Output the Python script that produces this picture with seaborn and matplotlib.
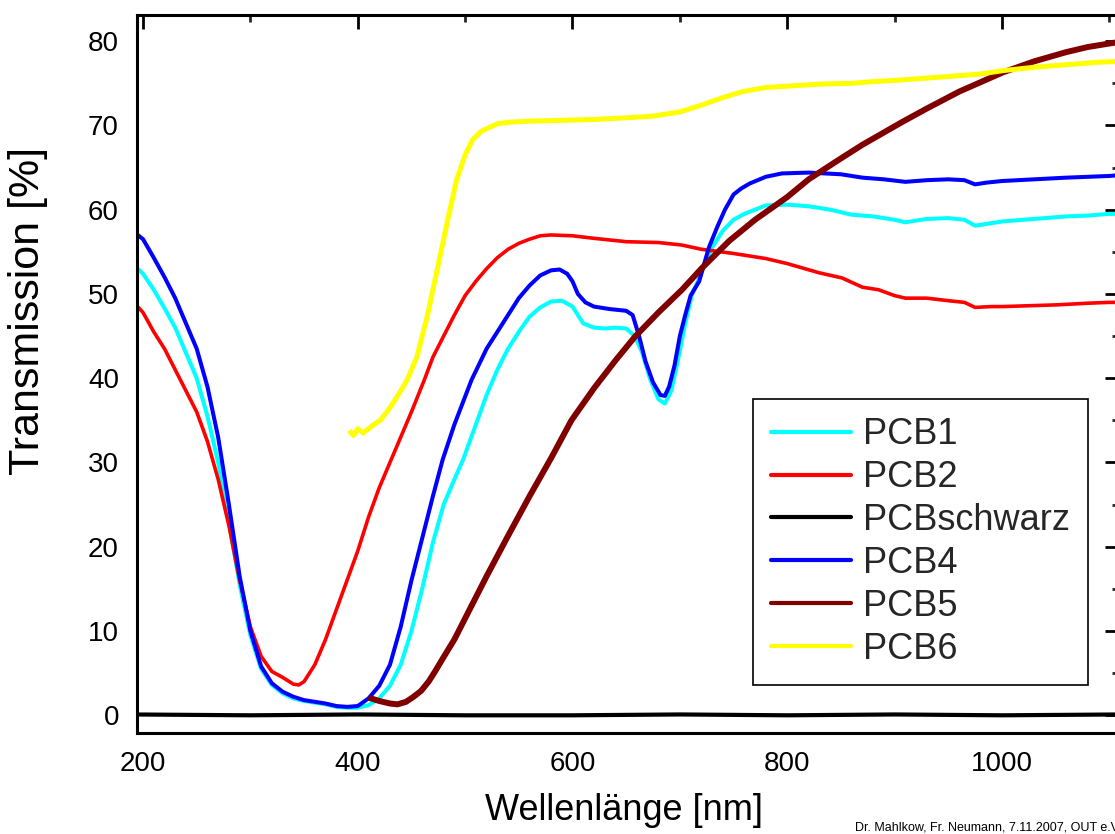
import matplotlib
matplotlib.use("Agg")
import matplotlib.pyplot as plt
from matplotlib.lines import Line2D
from matplotlib.ticker import MultipleLocator
import seaborn as sns
import pandas as pd

# ---------------- data ----------------
pcb1_x = [195, 200, 210, 220, 230, 240, 250, 260, 270, 280, 290, 300, 310, 320, 330, 340, 350, 360, 370, 380,
          390, 400, 410, 420, 430, 440, 450, 460, 470, 480, 490, 498, 510, 520, 530, 540, 550, 560, 570, 580,
          590, 600, 610, 620, 630, 640, 650, 658, 665, 672, 680, 686, 692, 698, 705, 711, 720, 730, 740, 750,
          760, 770, 780, 800, 820, 840, 860, 880, 900, 910, 930, 950, 965, 975, 985, 1000, 1030, 1060, 1080, 1100, 1110]
pcb1_y = [53.0, 52.4, 50.5, 48.3, 46.0, 43.0, 40.0, 35.5, 30.0, 23.0, 15.5, 9.5, 5.5, 3.6, 2.6, 2.0, 1.7, 1.5, 1.3, 1.0,
          0.9, 0.9, 1.2, 2.0, 3.5, 6.0, 10.0, 15.0, 20.5, 25.0, 28.0, 30.3, 34.5, 38.0, 41.0, 43.5, 45.5, 47.3, 48.4, 49.1,
          49.2, 48.5, 46.5, 46.0, 45.9, 46.0, 45.9, 45.0, 43.0, 40.0, 37.5, 37.0, 38.5, 42.0, 46.5, 49.8, 52.5, 55.5, 57.5, 58.8,
          59.5, 60.0, 60.5, 60.6, 60.4, 60.0, 59.4, 59.2, 58.8, 58.5, 58.9, 59.0, 58.8, 58.1, 58.3, 58.6, 58.9, 59.2, 59.3, 59.5, 59.5]

pcb2_x = [195, 200, 210, 220, 230, 240, 250, 260, 270, 280, 290, 300, 310, 320, 330, 340, 345, 350, 360, 370,
          380, 390, 400, 410, 420, 431, 440, 450, 462, 470, 480, 490, 500, 510, 520, 530, 540, 550, 560, 570,
          580, 600, 620, 650, 680, 702, 720, 750, 780, 800, 830, 851, 870, 885, 900, 910, 930, 950, 965, 975,
          990, 1000, 1050, 1080, 1100, 1110]
pcb2_y = [48.5, 47.8, 45.5, 43.5, 41.0, 38.5, 36.0, 32.5, 28.0, 22.5, 16.0, 10.5, 7.0, 5.2, 4.5, 3.7, 3.6, 4.0, 6.0, 9.0,
          12.5, 16.0, 19.5, 23.5, 27.0, 30.3, 33.0, 36.0, 39.8, 42.5, 45.0, 47.5, 49.8, 51.5, 53.0, 54.3, 55.3, 56.0, 56.5, 56.9,
          57.0, 56.9, 56.6, 56.2, 56.1, 55.8, 55.3, 54.8, 54.2, 53.6, 52.5, 51.9, 50.8, 50.5, 49.8, 49.5, 49.5, 49.2, 49.0, 48.4,
          48.5, 48.5, 48.7, 48.9, 49.0, 49.0]

pcbschwarz_x = [190, 300, 400, 500, 600, 700, 800, 900, 1000, 1110]
pcbschwarz_y = [0.1, 0.0, 0.1, 0.0, 0.0, 0.1, 0.0, 0.1, 0.0, 0.1]

pcb4_x = [195, 200, 210, 220, 230, 240, 250, 260, 270, 280, 290, 300, 310, 320, 330, 340, 350, 360, 370, 380,
          390, 400, 410, 420, 430, 440, 450, 460, 470, 479, 490, 506, 520, 530, 540, 550, 560, 570, 580, 588,
          595, 600, 605, 612, 620, 635, 650, 656, 662, 668, 675, 682, 686, 690, 695, 700, 705, 710, 718, 727,
          735, 742, 750, 757, 765, 780, 795, 820, 850, 870, 890, 910, 930, 950, 965, 975, 985, 1000, 1030, 1060,
          1080, 1100, 1110]
pcb4_y = [57.0, 56.5, 54.3, 52.0, 49.5, 46.5, 43.5, 39.0, 33.0, 25.0, 16.5, 10.0, 5.8, 3.8, 2.8, 2.2, 1.8, 1.6, 1.4, 1.1,
          1.0, 1.1, 2.0, 3.5, 6.0, 10.5, 16.0, 21.0, 26.0, 30.3, 34.5, 39.8, 43.5, 45.5, 47.5, 49.5, 51.0, 52.2, 52.8, 52.9,
          52.4, 51.5, 50.0, 49.0, 48.5, 48.2, 48.0, 47.5, 45.0, 42.0, 39.5, 38.0, 37.9, 39.0, 41.5, 45.0, 47.5, 49.8, 51.5, 55.5,
          58.0, 60.0, 61.8, 62.5, 63.1, 63.9, 64.3, 64.4, 64.2, 63.8, 63.6, 63.3, 63.5, 63.6, 63.5, 63.0, 63.2, 63.4, 63.6, 63.8,
          63.9, 64.0, 64.1]

pcb5_x = [410, 420, 430, 437, 445, 452, 459, 466, 472, 479, 490, 500, 520, 540, 560, 580, 599, 620, 640, 658,
          680, 702, 720, 746, 770, 800, 820, 849, 870, 907, 930, 960, 1001, 1030, 1060, 1080, 1104, 1110]
pcb5_y = [2.1, 1.7, 1.4, 1.3, 1.6, 2.2, 2.9, 4.0, 5.2, 6.7, 9.0, 11.5, 16.5, 21.3, 26.0, 30.5, 35.0, 38.8, 42.1, 44.9,
          47.8, 50.5, 53.0, 56.3, 58.8, 61.5, 63.6, 66.0, 67.7, 70.4, 72.0, 74.0, 76.3, 77.6, 78.7, 79.3, 79.8, 79.9]

pcb6_x = [392, 396, 400, 405, 410, 415, 421, 430, 440, 446, 455, 465, 475, 485, 492, 500, 507, 515, 530, 543,
          560, 590, 620, 650, 675, 700, 720, 740, 758, 780, 805, 830, 861, 880, 907, 950, 980, 1001, 1030, 1060,
          1090, 1110]
pcb6_y = [33.8, 33.2, 34.0, 33.5, 34.0, 34.5, 35.0, 36.5, 38.5, 39.8, 42.5, 47.5, 53.5, 59.5, 63.5, 66.5, 68.3, 69.3, 70.2, 70.4,
          70.5, 70.6, 70.7, 70.9, 71.1, 71.6, 72.4, 73.3, 74.0, 74.5, 74.7, 74.9, 75.0, 75.2, 75.4, 75.8, 76.1, 76.5, 76.9, 77.2,
          77.5, 77.6]

series_names = ["PCB1", "PCB2", "PCBschwarz", "PCB4", "PCB5", "PCB6"]
series_x = [pcb1_x, pcb2_x, pcbschwarz_x, pcb4_x, pcb5_x, pcb6_x]
series_y = [pcb1_y, pcb2_y, pcbschwarz_y, pcb4_y, pcb5_y, pcb6_y]
series_colors = ["#00FFFF", "#FF0000", "#000000", "#0000FF", "#800000", "#FFFF00"]
series_widths = [2.9, 2.6, 3.0, 2.9, 4.3, 3.6]

x_ticks = [200, 400, 600, 800, 1000]
y_ticks = [0, 10, 20, 30, 40, 50, 60, 70, 80]

x_label = "Wellenlänge [nm]"
y_label = "Transmission [%]"
footer = "Dr. Mahlkow, Fr. Neumann, 7.11.2007, OUT e.V."

# ---------------- style ----------------
sns.set_theme(style="white")
plt.rcParams["font.family"] = ["Liberation Sans", "DejaVu Sans"]

fig = plt.figure(figsize=(11.15, 8.34), dpi=100)
W, H = 1115, 834
left_px, right_px, top_px, bottom_px = 137, 1119, 15, 733
ax = fig.add_axes([left_px / W, 1 - bottom_px / H, (right_px - left_px) / W, (bottom_px - top_px) / H])

for name, xs, ys, c, lw in zip(series_names, series_x, series_y, series_colors, series_widths):
    df = pd.DataFrame({"x": xs, "y": ys})
    sns.lineplot(data=df, x="x", y="y", ax=ax, color=c, linewidth=lw, sort=False,
                 estimator=None, legend=False, solid_joinstyle="round", solid_capstyle="butt")

ax.set_xlim(194.4, 1109)
ax.set_ylim(-2.1, 83.1)
ax.set_xticks(x_ticks)
ax.set_yticks(y_ticks)
ax.xaxis.set_minor_locator(MultipleLocator(100))
ax.yaxis.set_minor_locator(MultipleLocator(5))

for s in ax.spines.values():
    s.set_linewidth(2.2)
    s.set_color("black")
    s.set_visible(True)

ax.tick_params(axis="both", which="major", direction="in", length=10, width=2.0,
               top=True, right=True, labelsize=20, colors="black", pad=13)
ax.tick_params(axis="both", which="minor", direction="in", length=5, width=2.0,
               top=True, right=True)
ax.grid(False)

ax.set_xlabel(x_label, fontsize=26, color="black")
ax.set_ylabel(y_label, fontsize=31, color="black")
ax.xaxis.set_label_coords((624 - left_px) / (right_px - left_px), -(793 - bottom_px) / (bottom_px - top_px))
ax.yaxis.set_label_coords(-(left_px - 48) / (right_px - left_px), (bottom_px - 311) / (bottom_px - top_px))

handles = [Line2D([], [], color=c, linewidth=3.0) for c in series_colors]
leg = ax.legend(handles, series_names, loc="lower left",
                bbox_to_anchor=((753 - left_px) / (right_px - left_px), (bottom_px - 685) / (bottom_px - top_px)),
                borderaxespad=0, fontsize=26, frameon=True, fancybox=False, framealpha=1,
                edgecolor="black", handlelength=2.2, handletextpad=0.35, labelspacing=0.22,
                borderpad=0.5)
leg.get_frame().set_linewidth(1.2)

fig.text(855 / W, 1 - 830 / H, footer, fontsize=9, color="black", va="baseline", ha="left")

fig.savefig("out.png", dpi=100)
